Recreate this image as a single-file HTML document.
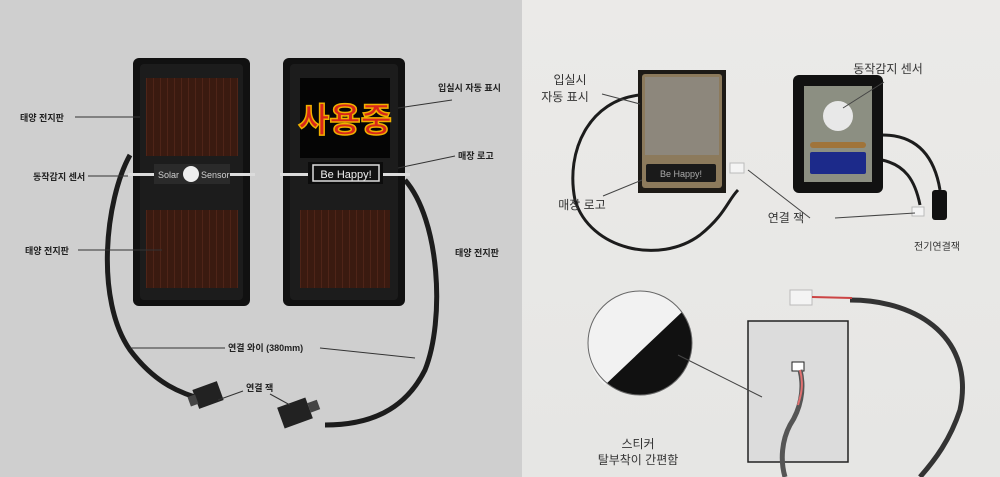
<!DOCTYPE html>
<html><head><meta charset="utf-8"><style>
html,body{margin:0;padding:0;width:1000px;height:477px;overflow:hidden}
text{font-family:"Liberation Sans","Noto Sans CJK KR",sans-serif}
</style></head><body>
<svg width="1000" height="477" viewBox="0 0 1000 477" xmlns="http://www.w3.org/2000/svg">
<defs>
<pattern id="sol" width="7" height="10" patternUnits="userSpaceOnUse">
<rect width="7" height="10" fill="#3a1a10"/><rect x="6" width="1" height="10" fill="#4e2418"/>
</pattern>
<linearGradient id="rbg" x1="0" y1="0" x2="0" y2="1"><stop offset="0" stop-color="#ebeae8"/><stop offset="1" stop-color="#e6e6e4"/></linearGradient>
</defs>
<rect x="0" y="0" width="522" height="477" fill="#cfcfcf"/>
<rect x="522" y="0" width="478" height="477" fill="url(#rbg)"/>

<path d="M130 155 C105 200 95 300 130 350 C160 390 190 395 205 400" stroke="#1c1c1c" stroke-width="5" fill="none"/>
<path d="M405 180 C440 220 445 320 425 370 C405 410 370 425 325 425" stroke="#1c1c1c" stroke-width="5" fill="none"/>
<g transform="rotate(-20 208 395)"><rect x="195" y="385" width="26" height="20" fill="#222"/><rect x="188" y="390" width="8" height="10" fill="#444"/></g>
<g transform="rotate(-20 295 413)"><rect x="280" y="402" width="30" height="22" fill="#222"/><rect x="310" y="408" width="10" height="10" fill="#444"/></g>

<rect x="133" y="58" width="117" height="248" rx="6" fill="#111"/>
<rect x="140" y="64" width="103" height="236" rx="4" fill="#1c1c1c"/>
<rect x="146" y="78" width="92" height="78" fill="url(#sol)"/>
<rect x="146" y="210" width="92" height="78" fill="url(#sol)"/>
<rect x="128" y="173" width="127" height="3" fill="#dcdcdc"/>
<rect x="154" y="164" width="76" height="20" fill="#2a2a2a"/>
<text x="158" y="178" font-size="9" fill="#cfcfcf">Solar</text>
<circle cx="191" cy="174" r="8" fill="#eee"/>
<text x="201" y="178" font-size="9" fill="#cfcfcf">Sensor</text>

<rect x="283" y="58" width="122" height="248" rx="6" fill="#111"/>
<rect x="290" y="64" width="108" height="236" rx="4" fill="#1c1c1c"/>
<rect x="300" y="78" width="90" height="80" fill="#050505"/>
<text x="345" y="132" font-size="34" font-weight="bold" fill="#d8261a" stroke="#f0b000" stroke-width="1.5" text-anchor="middle">사용중</text>
<rect x="280" y="173" width="130" height="3" fill="#dcdcdc"/>
<rect x="308" y="162" width="75" height="22" fill="#0c0c0c"/>
<rect x="313" y="165" width="66" height="16" fill="#111" stroke="#ddd" stroke-width="1.5"/>
<text x="346" y="178" font-size="11" fill="#eee" text-anchor="middle">Be Happy!</text>
<rect x="300" y="210" width="90" height="78" fill="url(#sol)"/>

<g font-size="9" fill="#222" font-weight="bold">
<text x="20" y="121">태양 전지판</text>
<text x="33" y="180">동작감지 센서</text>
<text x="25" y="254">태양 전지판</text>
<text x="438" y="91">입실시 자동 표시</text>
<text x="458" y="159">매장 로고</text>
<text x="455" y="256">태양 전지판</text>
<text x="228" y="351">연결 와이 (380mm)</text>
<text x="246" y="391">연결 잭</text>
</g>
<g stroke="#333" stroke-width="1" fill="none">
<line x1="75" y1="117" x2="140" y2="117"/>
<line x1="88" y1="176" x2="128" y2="176"/>
<line x1="78" y1="250" x2="162" y2="250"/>
<line x1="452" y1="100" x2="398" y2="108"/>
<line x1="455" y1="156" x2="398" y2="168"/>
<line x1="130" y1="348" x2="225" y2="348"/>
<line x1="320" y1="348" x2="415" y2="358"/>
<line x1="243" y1="391" x2="218" y2="400"/>
<line x1="270" y1="394" x2="290" y2="405"/>
</g>

<path d="M640 95 C590 100 565 150 575 200 C590 250 660 265 700 235 C725 215 728 200 738 190" stroke="#1c1c1c" stroke-width="3" fill="none"/>
<rect x="730" y="163" width="14" height="10" fill="#f4f4f4" stroke="#bbb"/>
<rect x="638" y="70" width="88" height="123" fill="#1d1a16"/>
<rect x="642" y="74" width="80" height="114" rx="3" fill="#8c7a5c"/>
<rect x="645" y="77" width="74" height="78" fill="#8d877c"/>
<rect x="646" y="164" width="70" height="18" rx="2" fill="#1a1a1a"/>
<text x="681" y="177" font-size="9" fill="#aaa" text-anchor="middle">Be Happy!</text>

<path d="M882 135 C920 135 935 160 940 190" stroke="#1c1c1c" stroke-width="3" fill="none"/>
<path d="M882 160 C905 165 915 180 920 205" stroke="#1c1c1c" stroke-width="3" fill="none"/>
<rect x="932" y="190" width="15" height="30" rx="3" fill="#111"/>
<rect x="912" y="207" width="12" height="9" fill="#f4f4f4" stroke="#bbb"/>
<rect x="793" y="75" width="90" height="118" rx="6" fill="#111"/>
<rect x="804" y="86" width="68" height="96" fill="#8c8f82"/>
<circle cx="838" cy="116" r="15" fill="#e8e8e8"/>
<rect x="810" y="142" width="56" height="6" rx="3" fill="#a0743a"/>
<rect x="810" y="152" width="56" height="22" rx="2" fill="#1c2a8a"/>

<path d="M850 300 C920 300 975 340 960 410 C950 440 935 460 920 477" stroke="#333" stroke-width="5" fill="none"/>
<rect x="790" y="290" width="22" height="15" fill="#f4f4f4" stroke="#bbb"/>
<line x1="812" y1="297" x2="852" y2="298" stroke="#c44" stroke-width="2"/>
<rect x="748" y="321" width="100" height="141" fill="#dcdcdc" stroke="#222" stroke-width="1.5"/>
<rect x="792" y="362" width="12" height="9" fill="#fff" stroke="#222"/>
<path d="M800 370 C805 390 800 410 790 425 C782 440 780 460 785 477" stroke="#555" stroke-width="5" fill="none"/>
<path d="M800 370 C804 385 801 395 798 405" stroke="#e07070" stroke-width="2" fill="none"/>
<circle cx="640" cy="343" r="52" fill="#111"/>
<path d="M588 343 A52 52 0 0 1 682 312 L605 385 A52 52 0 0 1 588 343Z" fill="#f2f2f2"/>
<circle cx="640" cy="343" r="52" fill="none" stroke="#666" stroke-width="1"/>
<line x1="678" y1="355" x2="762" y2="397" stroke="#444" stroke-width="1"/>

<g font-size="12" fill="#333">
<text x="570" y="84" text-anchor="middle">입실시</text>
<text x="565" y="101" text-anchor="middle">자동 표시</text>
<text x="582" y="209" text-anchor="middle">매장 로고</text>
<text x="888" y="73" text-anchor="middle">동작감지 센서</text>
<text x="786" y="222" text-anchor="middle">연결 잭</text>
<text x="638" y="448" text-anchor="middle">스티커</text>
<text x="638" y="464" text-anchor="middle">탈부착이 간편함</text>
</g>
<text x="937" y="250" font-size="10" fill="#333" text-anchor="middle">전기연결잭</text>
<g stroke="#444" stroke-width="1">
<line x1="602" y1="94" x2="640" y2="104"/>
<line x1="603" y1="196" x2="642" y2="180"/>
<line x1="884" y1="82" x2="843" y2="108"/>
<line x1="810" y1="218" x2="748" y2="170"/>
<line x1="835" y1="218" x2="915" y2="213"/>
</g>
</svg>
</body></html>
